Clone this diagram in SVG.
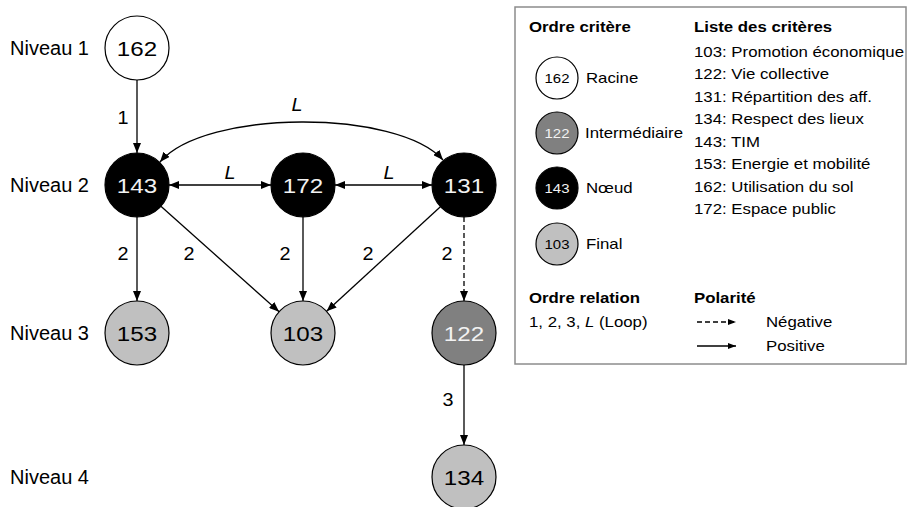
<svg xmlns="http://www.w3.org/2000/svg" width="908" height="507" viewBox="0 0 908 507">
  <style>
    text { font-family: "Liberation Sans", Arial, sans-serif; fill: #000; }
    .lvl { font-size: 20px; }
    .num { font-size: 21px; text-anchor: middle; transform-box: fill-box; transform-origin: 50% 50%; transform: scaleX(1.15); }
    .inv { fill: #f2f2f2; }
    .lbl { font-size: 18px; text-anchor: middle; transform-box: fill-box; transform-origin: 50% 50%; transform: scaleX(1.1); }
    .it { font-style: italic; }
    .leg { font-size: 14px; transform-box: fill-box; transform-origin: 0 50%; transform: scaleX(1.2); }
    .hd { font-weight: bold; }
    .lnum { font-size: 13px; text-anchor: middle; transform-box: fill-box; transform-origin: 50% 50%; transform: scaleX(1.15); }
    .node { stroke: #000; stroke-width: 1.2; }
    .root { fill: #fff; }
    .knot { fill: #000; }
    .mid { fill: #808080; }
    .fin { fill: #c0c0c0; }
    .edge { fill: none; stroke: #000; stroke-width: 1.3; }
    .dash { stroke-dasharray: 5 3; }
  </style>
  <defs>
    <marker id="arr" viewBox="0 0 10 8" refX="10" refY="4" markerWidth="10" markerHeight="8" markerUnits="userSpaceOnUse" orient="auto-start-reverse">
      <path d="M0,0 L10,4 L0,8 z" fill="#000"/>
    </marker>
    <marker id="arrs" viewBox="0 0 8 6" refX="8" refY="3" markerWidth="8" markerHeight="6" markerUnits="userSpaceOnUse" orient="auto">
      <path d="M0,0 L8,3 L0,6 z" fill="#000"/>
    </marker>
  </defs>

  <!-- level captions -->
  <g id="levels">
    <text class="lvl" x="10" y="55">Niveau 1</text>
    <text class="lvl" x="10" y="192">Niveau 2</text>
    <text class="lvl" x="10" y="340">Niveau 3</text>
    <text class="lvl" x="10" y="484">Niveau 4</text>
  </g>

  <!-- relations -->
  <g id="connectors">
    <line class="edge" x1="137" y1="80" x2="137" y2="153" marker-end="url(#arr)"/>
    <path class="edge" d="M160,162 C205,109 398,109 443,160" marker-start="url(#arr)" marker-end="url(#arr)"/>
    <line class="edge" x1="169" y1="185" x2="271" y2="185" marker-start="url(#arr)" marker-end="url(#arr)"/>
    <line class="edge" x1="335" y1="185" x2="432" y2="185" marker-start="url(#arr)" marker-end="url(#arr)"/>
    <line class="edge" x1="137" y1="217" x2="137" y2="301" marker-end="url(#arr)"/>
    <line class="edge" x1="160.9" y1="206.3" x2="279.1" y2="311.7" marker-end="url(#arr)"/>
    <line class="edge" x1="303" y1="217" x2="303" y2="301" marker-end="url(#arr)"/>
    <line class="edge" x1="440.4" y1="206.7" x2="326.6" y2="311.3" marker-end="url(#arr)"/>
    <line class="edge dash" x1="464" y1="217" x2="464" y2="301" marker-end="url(#arr)"/>
    <line class="edge" x1="464" y1="365" x2="464" y2="445" marker-end="url(#arr)"/>

    <text class="lbl" x="123" y="124">1</text>
    <text class="lbl it" x="297" y="111">L</text>
    <text class="lbl it" x="230" y="179">L</text>
    <text class="lbl it" x="389" y="179">L</text>
    <text class="lbl" x="123" y="260">2</text>
    <text class="lbl" x="189" y="260">2</text>
    <text class="lbl" x="285" y="260">2</text>
    <text class="lbl" x="368" y="260">2</text>
    <text class="lbl" x="447" y="260">2</text>
    <text class="lbl" x="448" y="406">3</text>
  </g>

  <!-- criteria -->
  <g id="n162"><circle class="node root" cx="137" cy="48" r="32"/><text class="num" x="137" y="56">162</text></g>
  <g id="n143"><circle class="node knot" cx="137" cy="185" r="32"/><text class="num inv" x="137" y="193">143</text></g>
  <g id="n172"><circle class="node knot" cx="303" cy="185" r="32"/><text class="num inv" x="303" y="193">172</text></g>
  <g id="n131"><circle class="node knot" cx="464" cy="185" r="32"/><text class="num inv" x="464" y="193">131</text></g>
  <g id="n153"><circle class="node fin" cx="137" cy="333" r="32"/><text class="num" x="137" y="341">153</text></g>
  <g id="n103"><circle class="node fin" cx="303" cy="333" r="32"/><text class="num" x="303" y="341">103</text></g>
  <g id="n122"><circle class="node mid" cx="464" cy="333" r="32"/><text class="num inv" x="464" y="341">122</text></g>
  <g id="n134"><circle class="node fin" cx="464" cy="477" r="32"/><text class="num" x="464" y="485">134</text></g>

  <!-- legend -->
  <g id="legend">
    <rect x="515" y="7" width="391" height="357" fill="#fff" stroke="#8c8c8c" stroke-width="1.5"/>
    <text class="leg hd" x="529" y="32">Ordre critère</text>
    <text class="leg hd" x="694" y="32">Liste des critères</text>

    <circle class="node root" cx="557" cy="78" r="21"/><text class="lnum" x="557" y="83">162</text>
    <text class="leg" x="586" y="83">Racine</text>
    <circle class="node mid" cx="557" cy="133" r="21"/><text class="lnum inv" x="557" y="138">122</text>
    <text class="leg" x="585" y="138">Intermédiaire</text>
    <circle class="node knot" cx="557" cy="188" r="21"/><text class="lnum inv" x="557" y="193">143</text>
    <text class="leg" x="586" y="193">Nœud</text>
    <circle class="node fin" cx="557" cy="244" r="21"/><text class="lnum" x="557" y="249">103</text>
    <text class="leg" x="586" y="249">Final</text>

    <text class="leg" x="694" y="57">103: Promotion économique</text>
    <text class="leg" x="694" y="79">122: Vie collective</text>
    <text class="leg" x="694" y="102">131: Répartition des aff.</text>
    <text class="leg" x="694" y="124">134: Respect des lieux</text>
    <text class="leg" x="694" y="147">143: TIM</text>
    <text class="leg" x="694" y="169">153: Energie et mobilité</text>
    <text class="leg" x="694" y="192">162: Utilisation du sol</text>
    <text class="leg" x="694" y="214">172: Espace public</text>

    <text class="leg hd" x="529" y="303">Ordre relation</text>
    <text class="leg" x="529" y="327">1, 2, 3, <tspan font-style="italic">L</tspan> (Loop)</text>
    <text class="leg hd" x="694" y="303">Polarité</text>

    <line class="edge dash" x1="697" y1="322" x2="736" y2="322" marker-end="url(#arrs)"/>
    <line class="edge" x1="697" y1="346" x2="736" y2="346" marker-end="url(#arrs)"/>
    <text class="leg" x="766" y="327">Négative</text>
    <text class="leg" x="766" y="351">Positive</text>
  </g>
</svg>
